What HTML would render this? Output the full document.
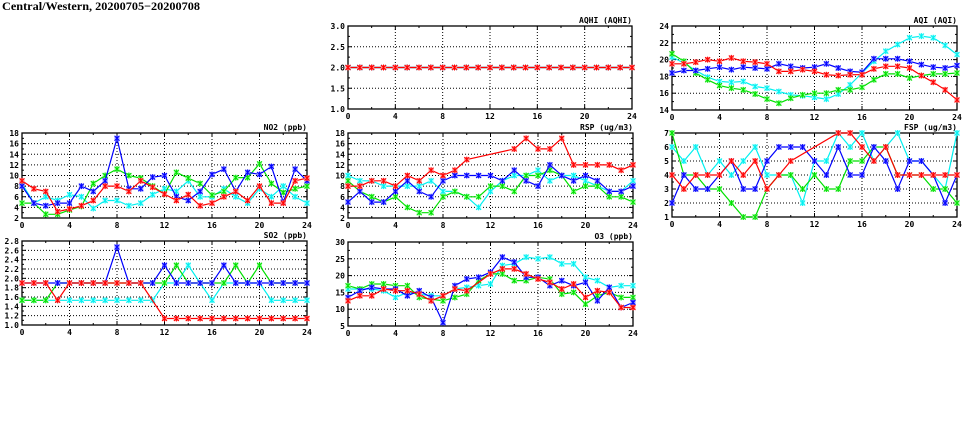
<!DOCTYPE html>
<html><head><meta charset="utf-8"><style>
body{margin:0;background:#fff;width:975px;height:447px;overflow:hidden}
svg{display:block}
text{font-family:"DejaVu Sans Mono","Liberation Mono",monospace;font-weight:bold;font-size:8px;fill:#000}
</style></head><body>
<svg id="s" width="975" height="447" xmlns="http://www.w3.org/2000/svg">
<text x="2" y="10" textLength="198" lengthAdjust="spacingAndGlyphs" style="font-family:'Liberation Serif',serif;font-size:12px;font-weight:bold">Central/Western, 20200705−20200708</text>
</svg>
<script>
const N=null;
const panels=[
{x0:348,x1:632,y0:26,y1:109,min:1,max:3,step:0.5,fmt:1,title:"AQHI (AQHI)",s:{c:Array(25).fill(2),g:Array(25).fill(2),b:Array(25).fill(2),r:Array(25).fill(2)}},
{x0:672,x1:957,y0:26,y1:110,min:14,max:24,step:2,fmt:0,title:"AQI (AQI)",s:{
r:[19.5,19.5,19.7,20,19.8,20.2,19.8,19.7,19.5,18.6,18.6,18.8,18.6,18.2,18.1,18.2,18.2,18.9,19.2,19.2,19,18.1,17.3,16.4,15.2],
b:[18.4,18.7,18.7,18.9,19.1,18.8,19.1,19,18.9,19.5,19.2,19,19.1,19.5,19,18.6,18.5,20.1,20.1,20.1,19.8,19.4,19.1,19,19.3],
g:[20.7,19.8,18.4,17.6,16.9,16.6,16.4,15.9,15.3,14.8,15.4,15.8,16,16,16.4,16.4,16.7,17.6,18.3,18.3,17.8,18.1,18.3,18.3,18.4],
c:[20.3,19.6,18.7,17.9,17.4,17.3,17.4,16.8,16.6,16.2,15.8,15.7,15.5,15.3,15.9,17,18.4,19.8,21,21.8,22.6,22.8,22.6,21.7,20.6]}},
{x0:22,x1:307,y0:133,y1:218,min:2,max:18,step:2,fmt:0,title:"NO2 (ppb)",s:{
b:[8,4.8,4.3,4.8,4.8,8,7,9,17,7.5,7.5,9.7,10,6,5.3,7,10.2,11.2,7,10.6,10.2,11.7,5,11.2,9],
g:[4.8,4.8,2.7,2.7,3.5,4.2,8.5,10,11.2,10,9.5,8,6.5,10.6,9.5,8.5,6.3,7,9.6,9.6,12.2,8.5,6.8,7.5,8],
c:[8.5,4.8,6,5.3,6.4,6,3.8,5.3,5.3,4.3,4.8,6.4,7.5,7,9,6,6,7.5,6,4.8,7.5,6,8,6,4.8],
r:[9,7.5,7,3.2,3.7,4.3,5.3,8,8,7,9,7.8,6.5,5.3,6.4,4.3,4.8,6,7,5.3,8,4.8,4.8,9,9.5]}},
{x0:348,x1:633,y0:133,y1:218,min:2,max:18,step:2,fmt:0,title:"RSP (ug/m3)",s:{
c:[10,9,9,8,8,8,8,9,7,7,6,4,7,9,10,10,11,9,10,10,9,8,7,7,9],
g:[9,7,6,5,6,4,3,3,6,7,6,6,8,8,7,10,10,11,10,7,8,8,6,6,5],
b:[5,7,5,5,7,9,7,6,9,10,10,10,10,9,11,9,8,12,10,9,10,9,7,7,8],
r:[8,8,9,9,8,10,9,11,10,11,13,N,N,N,15,17,15,15,17,12,12,12,12,11,12]}},
{x0:672,x1:957,y0:133,y1:217,min:1,max:7,step:1,fmt:0,title:"FSP (ug/m3)",s:{
c:[6,5,6,4,5,4,5,6,4,4,4,2,5,5,7,6,7,5,6,7,5,5,4,3,7],
g:[7,4,4,3,3,2,1,1,3,4,4,3,4,3,3,5,5,6,6,4,4,4,3,3,2],
b:[2,4,3,3,4,5,3,3,5,6,6,6,5,4,6,4,4,6,5,3,5,5,4,2,4],
r:[4,3,4,4,4,5,4,5,3,4,5,N,N,N,7,7,6,5,6,4,4,4,4,4,4]}},
{x0:22,x1:307,y0:241,y1:325,min:1,max:2.8,step:0.2,fmt:1,title:"SO2 (ppb)",s:{
c:[1.53,1.53,1.53,1.53,1.53,1.53,1.53,1.53,1.53,1.53,1.53,1.53,1.9,1.9,2.28,1.9,1.53,1.9,1.9,1.9,1.9,1.53,1.53,1.53,1.53],
g:[1.53,1.53,1.53,1.9,1.9,1.9,1.9,1.9,1.9,1.9,1.9,1.9,1.9,2.28,1.9,1.9,1.9,1.9,2.28,1.9,2.28,1.9,1.9,1.9,1.9],
b:[1.9,1.9,1.9,1.9,1.9,1.9,1.9,1.9,2.67,1.9,1.9,1.9,2.28,1.9,1.9,1.9,1.9,2.28,1.9,1.9,1.9,1.9,1.9,1.9,1.9],
r:[1.9,1.9,1.9,1.53,1.9,1.9,1.9,1.9,1.9,1.9,1.9,N,1.14,1.14,1.14,1.14,1.14,1.14,1.14,1.14,1.14,1.14,1.14,1.14,1.14]}},
{x0:348,x1:633,y0:242,y1:326,min:5,max:30,step:5,fmt:0,title:"O3 (ppb)",s:{
c:[16,16,16,15.5,13.5,15,14.5,14,14,16,16.5,17,17.5,23,23.5,25.5,25,25.5,23.5,23.5,19.5,18.5,16.5,17,17],
g:[17,16,17.5,17.5,17,17,13.5,13,12.5,13.5,14.5,18.5,20.5,20.5,18.5,18.5,19.5,19,14.5,15,11.5,14,15,13.5,13.5],
b:[13.5,15.5,16.5,16,16,14,15.5,13.5,6,17,19,19.5,21,25.5,24,19.5,19.5,17,18.5,17,18,12.5,16.5,10.5,12],
r:[12.5,14,14,16,15.5,15.5,14.5,12.5,14,16,15.5,N,20.5,22,22,20.5,19,18,16,17.5,13.5,15.5,15,10.5,10.5]}}
];
const col={c:"#00f0f0",g:"#00e000",b:"#0000ff",r:"#ff0000"};
const halo={c:"#a0ffff",g:"#a0ffa0",b:"#9090ff",r:"#ff9090"};
let h="";
for(const p of panels){
 const X=i=>p.x0+(p.x1-p.x0)*i/24, Y=v=>p.y1-(p.y1-p.y0)*(v-p.min)/(p.max-p.min);
 const nt=Math.round((p.max-p.min)/p.step);
 for(let k=0;k<=nt;k++){const v=p.min+k*p.step,y=Y(v);
  if(k>0&&k<nt)h+=`<line x1="${p.x0}" x2="${p.x1}" y1="${y}" y2="${y}" stroke="#000" stroke-width="1" stroke-dasharray="1,2"/>`;
  h+=`<line x1="${p.x0}" x2="${p.x0+4}" y1="${y}" y2="${y}" stroke="#000"/><line x1="${p.x1}" x2="${p.x1-4}" y1="${y}" y2="${y}" stroke="#000"/>`;
  if(k<nt){const ym=Y(v+p.step/2);h+=`<line x1="${p.x0}" x2="${p.x0+2}" y1="${ym}" y2="${ym}" stroke="#000"/><line x1="${p.x1}" x2="${p.x1-2}" y1="${ym}" y2="${ym}" stroke="#000"/>`;}
  h+=`<text x="${p.x0-3}" y="${y+3}" text-anchor="end">${v.toFixed(p.fmt)}</text>`;}
 for(let i=0;i<=24;i+=2){const x=X(i);
  if(i%4==0&&i>0&&i<24)h+=`<line x1="${x}" x2="${x}" y1="${p.y0}" y2="${p.y1}" stroke="#000" stroke-dasharray="1,2"/>`;
  const l=i%4==0?4:2;
  h+=`<line x1="${x}" x2="${x}" y1="${p.y1}" y2="${p.y1-l}" stroke="#000"/><line x1="${x}" x2="${x}" y1="${p.y0}" y2="${p.y0+l}" stroke="#000"/>`;
  if(i%4==0)h+=`<text x="${x}" y="${p.y1+10}" text-anchor="middle">${i}</text>`;}
 h+=`<rect x="${p.x0}" y="${p.y0}" width="${p.x1-p.x0}" height="${p.y1-p.y0}" fill="none" stroke="#000" stroke-width="1.3"/>`;
 h+=`<text x="${p.x1}" y="${p.y0-3}" text-anchor="end">${p.title}</text>`;
 for(const k of ["c","g","b","r"]){const d=p.s[k];let pts=[];
  d.forEach((v,i)=>{if(v!==null)pts.push(X(i).toFixed(1)+","+Y(v).toFixed(1));});
  h+=`<polyline points="${pts.join(" ")}" fill="none" stroke="${col[k]}" stroke-width="1.2"/>`;
  d.forEach((v,i)=>{if(v===null)return;const x=X(i),y=Y(v);
   h+=`<rect x="${x-2.5}" y="${y-2.5}" width="5" height="5" fill="${halo[k]}"/><path d="M${x-2.5} ${y-2.5}L${x+2.5} ${y+2.5}M${x-2.5} ${y+2.5}L${x+2.5} ${y-2.5}M${x} ${y-3}V${y+3}" stroke="${col[k]}" stroke-width="1"/>`;});}
}
document.getElementById("s").insertAdjacentHTML("beforeend",h);
</script>
</body></html>
